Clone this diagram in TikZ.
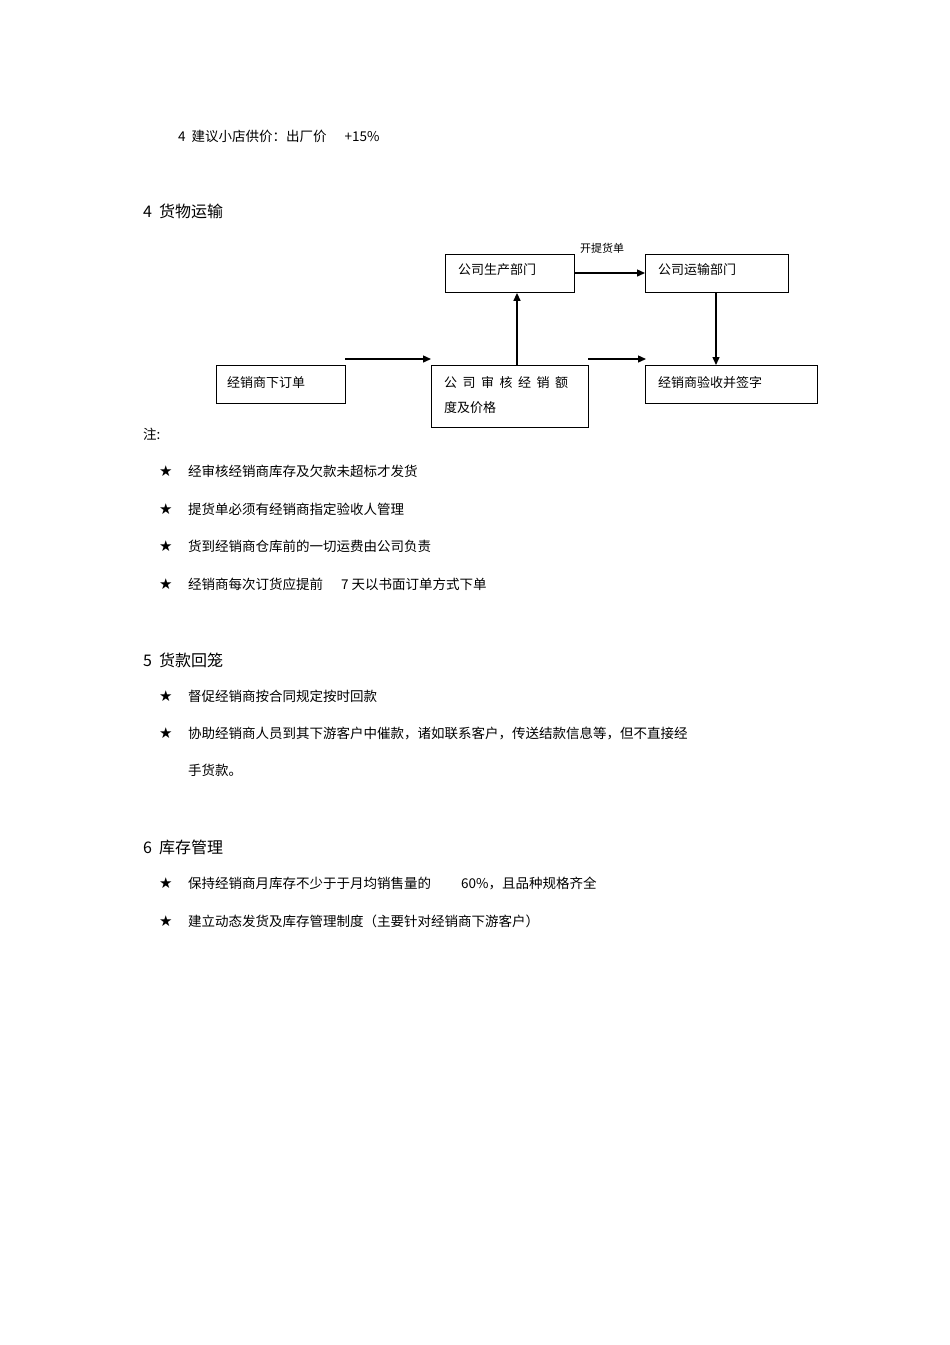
\documentclass[tikz,border=0pt]{standalone}
\usepackage{fontspec}
\setmainfont{Liberation Sans}
\newfontfamily\cjk{Noto Sans CJK SC}
\newfontfamily\dv{DejaVu Sans}
\usetikzlibrary{arrows.meta}
\begin{document}
\begin{tikzpicture}[x=1pt,y=-1pt,
  bx/.style={draw,line width=0.9pt,anchor=north west,inner sep=0pt,font=\cjk\fontsize{13}{16}\selectfont},
  ar/.style={-{Triangle[length=8pt,width=7pt]},line width=1.4pt},
  tx/.style={anchor=west,inner sep=0pt,font=\cjk\fontsize{13.5}{16}\selectfont},
  hd/.style={anchor=west,inner sep=0pt,font=\cjk\fontsize{16}{18}\selectfont},
  st/.style={anchor=west,inner sep=0pt,font=\dv\fontsize{15}{16}\selectfont}]
\useasboundingbox (0,0) rectangle (950,1345);
\node[tx] (t0) at (178,136) {4\ \ 建议小店供价：出厂价\hspace{18pt}+15\%};
\node[hd] (h4) at (143,211) {4\ \ 货物运输};
% boxes
\node[bx,minimum width=129pt,minimum height=38pt] (prod) at (445,254) {};
\node[tx,font=\cjk\fontsize{13}{16}\selectfont] (prodt) at (458,270) {公司生产部门};
\node[bx,minimum width=143pt,minimum height=38pt] (tran) at (645,254) {};
\node[tx,font=\cjk\fontsize{13}{16}\selectfont] (trant) at (658,270) {公司运输部门};
\node[bx,minimum width=129pt,minimum height=38pt] (ord) at (216,365) {};
\node[tx,font=\cjk\fontsize{13}{16}\selectfont] (ordt) at (227,383) {经销商下订单};
\node[bx,minimum width=157pt,minimum height=62pt] (aud) at (431,365) {};
\node[tx,font=\cjk\fontsize{13}{16}\selectfont] (audt1) at (444,383) {公\hspace{5.5pt}司\hspace{5.5pt}审\hspace{5.5pt}核\hspace{5.5pt}经\hspace{5.5pt}销\hspace{5.5pt}额};
\node[tx,font=\cjk\fontsize{13}{16}\selectfont] (audt2) at (444,408) {度及价格};
\node[bx,minimum width=172pt,minimum height=38pt] (acc) at (645,365) {};
\node[tx,font=\cjk\fontsize{13}{16}\selectfont] (acct) at (658,383) {经销商验收并签字};
\coordinate (a1s) at (345,359); \coordinate (a1e) at (431,359);
\coordinate (a2s) at (588,359); \coordinate (a2e) at (646,359);
\draw[ar] (a1s) -- (a1e);
\draw[ar] (a2s) -- (a2e);
\draw[ar] (aud.north -| 517,0) -- (prod.south -| 517,0);
\draw[ar] (prod.east |- 0,273) -- (tran.west |- 0,273);
\draw[ar] (tran.south -| 716,0) -- (acc.north -| 716,0);
\node[tx,font=\cjk\fontsize{11}{13}\selectfont] (lbl) at (580,248) {开提货单};
\node[tx] (note) at (143,434) {注:};
\foreach \y/\t [count=\i] in {471/经审核经销商库存及欠款未超标才发货,509/提货单必须有经销商指定验收人管理,546/货到经销商仓库前的一切运费由公司负责,584/经销商每次订货应提前\hspace{18pt}7 天以书面订单方式下单,696/督促经销商按合同规定按时回款,733/{协助经销商人员到其下游客户中催款，诸如联系客户，传送结款信息等，但不直接经},883/{保持经销商月库存不少于于月均销售量的\hspace{30pt}60\%，且品种规格齐全},921/建立动态发货及库存管理制度（主要针对经销商下游客户）}{
  \node[st] (s\i) at (159,\y) {★};
  \node[tx] (l\i) at (188,\y) {\t};
}
\node[tx] (l6b) at (188,770) {手货款。};
\node[hd] (h5) at (143,660) {5\ \ 货款回笼};
\node[hd] (h6) at (143,847) {6\ \ 库存管理};
\end{tikzpicture}
\end{document}
